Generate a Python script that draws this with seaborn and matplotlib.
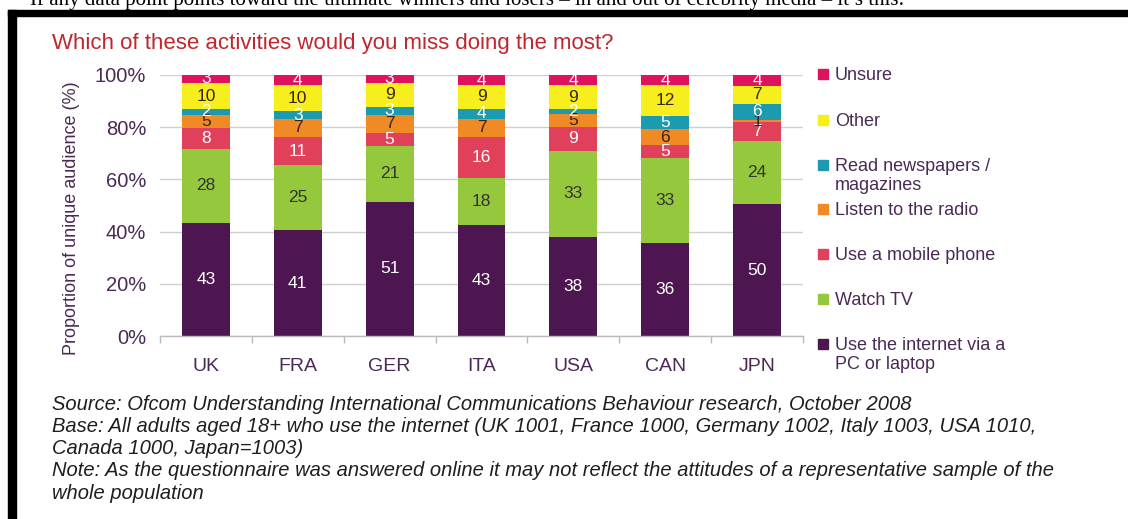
import matplotlib
matplotlib.use("Agg")
import matplotlib.pyplot as plt
import seaborn as sns
import pandas as pd
import numpy as np
from matplotlib.patches import Rectangle
from matplotlib.ticker import FuncFormatter, FixedLocator

# Survey results (% of respondents), bottom segment first
countries = ["UK", "FRA", "GER", "ITA", "USA", "CAN", "JPN"]
internet = [43, 41, 51, 43, 38, 36, 50]
watch_tv = [28, 25, 21, 18, 33, 33, 24]
mobile = [8, 11, 5, 16, 9, 5, 7]
radio = [5, 7, 7, 7, 5, 6, 1]
newspapers = [2, 3, 3, 4, 2, 5, 6]
other = [10, 10, 9, 9, 9, 12, 7]
unsure = [3, 4, 3, 4, 4, 4, 4]

activities = ["Use the internet via a\nPC or laptop", "Watch TV", "Use a mobile phone",
              "Listen to the radio", "Read newspapers /\nmagazines", "Other", "Unsure"]
series = [internet, watch_tv, mobile, radio, newspapers, other, unsure]
colors = ["#4E1650", "#95C83D", "#E0405A", "#F08A24", "#1B9AB0", "#F7EE1E", "#E0115F"]
label_colors = ["white", "#333333", "white", "#3B2314", "white", "#3B2314", "white"]

sns.set_theme(style="white")
plt.rcParams["font.family"] = ["Liberation Sans", "DejaVu Sans"]
purple_text = "#4A2A55"

values = np.array(series, dtype=float)          # shape (activity, country)
shares = values / values.sum(axis=0) * 100      # 100% stacked
cum = np.cumsum(shares, axis=0)

W, H = 1128, 519
fig = plt.figure(figsize=(W / 100, H / 100), dpi=100)
ax = fig.add_axes([160 / W, 1 - 336 / H, 643 / W, 261 / H])


def fx(px):
    return px / W


def fy(py):
    return 1 - py / H


# Draw stacked bars: tallest cumulative first, shorter layers on top
for i in range(len(series) - 1, -1, -1):
    df = pd.DataFrame({"country": countries, "top": cum[i]})
    sns.barplot(data=df, x="country", y="top", color=colors[i], width=0.52,
                saturation=1, linewidth=0, ax=ax, zorder=2)

# Value labels in each segment
for i in range(len(series)):
    for j, c in enumerate(countries):
        lo = cum[i - 1][j] if i > 0 else 0
        mid = (lo + cum[i][j]) / 2
        ax.text(j, mid, str(series[i][j]), ha="center", va="center",
                fontsize=12.5, color=label_colors[i], zorder=3)

ax.set_ylim(0, 100)
ax.set_xlim(-0.5, len(countries) - 0.5)
ax.yaxis.set_major_locator(FixedLocator([0, 20, 40, 60, 80, 100]))
ax.yaxis.set_major_formatter(FuncFormatter(lambda v, p: f"{int(v)}%"))
ax.grid(axis="y", color="#CFCFCF", linewidth=1, zorder=0)
ax.set_axisbelow(True)
for s in ["top", "right", "left"]:
    ax.spines[s].set_visible(False)
ax.spines["bottom"].set_color("#BBBBBB")
ax.spines["bottom"].set_linewidth(1)
ax.spines["bottom"].set_zorder(4)

ax.tick_params(axis="y", length=0, pad=10, labelsize=14.5, labelcolor=purple_text)
ax.tick_params(axis="x", which="major", length=0, pad=16, labelsize=14,
               labelcolor=purple_text)
ax.set_xticks(np.arange(-0.5, len(countries), 1.0), minor=True)
ax.tick_params(axis="x", which="minor", length=5, color="#BBBBBB", width=1,
               direction="out", bottom=True)
ax.set_xlabel("")
ax.set_ylabel("")
fig.text(fx(72), fy(218), "Proportion of unique audience (%)", rotation=90,
         fontsize=13, color=purple_text, ha="center", va="center")

# Legend, one entry per activity, square beside the first text line
legend_y = {"Unsure": 74, "Other": 120, "Read newspapers /\nmagazines": 165,
            "Listen to the radio": 209, "Use a mobile phone": 254, "Watch TV": 299,
            "Use the internet via a\nPC or laptop": 344}
for i, name in enumerate(activities):
    y0 = legend_y[name]
    fig.patches.append(Rectangle((fx(818), fy(y0 + 5)), fx(10), 10 / H,
                                 transform=fig.transFigure, color=colors[i]))
    fig.text(fx(835), fy(y0 - 7), name, fontsize=13, color=purple_text,
             ha="left", va="top", linespacing=1.18)

# Title
fig.text(fx(52), fy(43), "Which of these activities would you miss doing the most?",
         fontsize=16, color="#C0262D", va="center", ha="left")

# Footnotes
notes = ("Source: Ofcom Understanding International Communications Behaviour research, October 2008\n"
         "Base: All adults aged 18+ who use the internet (UK 1001, France 1000, Germany 1002, Italy 1003, USA 1010,\n"
         "Canada 1000, Japan=1003)\n"
         "Note: As the questionnaire was answered online it may not reflect the attitudes of a representative sample of the\n"
         "whole population")
fig.text(fx(52), fy(395), notes, fontsize=14.5, style="italic",
         color="#1E1E1E", va="top", ha="left", linespacing=1.21)

# Page text above the frame, clipped by the top edge
fig.text(fx(30), fy(5),
         "If any data point points toward the ultimate winners and losers \u2013 in and out of celebrity media \u2013 it\u2019s this:",
         fontsize=15, family=["Liberation Serif", "DejaVu Serif"], color="black",
         va="baseline", ha="left")

# Black frame of the page (top and left edges)
fig.patches.append(Rectangle((fx(8), 0), fx(8), fy(10),
                             transform=fig.transFigure, color="black", zorder=10))
fig.patches.append(Rectangle((fx(8), fy(16)), 1 - fx(8), 6 / H,
                             transform=fig.transFigure, color="black", zorder=10))

fig.savefig("out.png", dpi=100)
